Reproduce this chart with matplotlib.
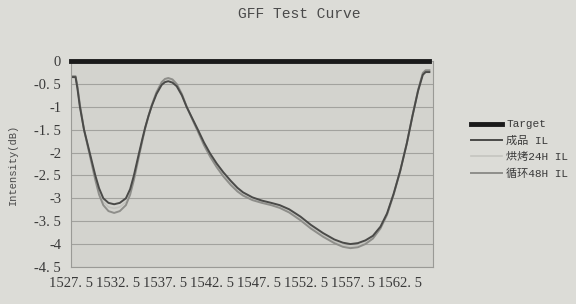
import matplotlib.pyplot as plt

# wavelength (nm) and insertion loss (dB)
wavelength = [1527.5, 1528.0, 1528.2, 1528.46, 1528.9, 1529.5, 1530.1, 1530.5, 1530.95, 1531.5,
              1532.1, 1532.7, 1533.35, 1533.8, 1534.2, 1534.7, 1535.1, 1535.4, 1535.75, 1536.1,
              1536.6, 1537.15, 1537.5, 1537.85, 1538.3, 1538.75, 1539.3, 1539.8, 1540.4, 1541.0,
              1541.65, 1542.3, 1543.0, 1543.7, 1544.5, 1545.2, 1545.8, 1546.8, 1547.8, 1548.8,
              1549.7, 1550.7, 1551.9, 1553.0, 1554.3, 1555.5, 1556.4, 1557.2, 1558.0, 1558.8,
              1559.6, 1560.4, 1561.1, 1561.8, 1562.5, 1563.2, 1563.8, 1564.4, 1564.9, 1565.2,
              1565.6]

il_product = [-0.35, -0.35, -0.60, -1.00, -1.50, -2.00, -2.50, -2.78, -3.00, -3.10,
              -3.13, -3.10, -3.00, -2.80, -2.50, -2.05, -1.70, -1.45, -1.20, -0.98,
              -0.72, -0.52, -0.46, -0.44, -0.47, -0.55, -0.75, -1.00, -1.25, -1.50,
              -1.78, -2.02, -2.24, -2.43, -2.62, -2.77, -2.87, -2.98, -3.05, -3.10,
              -3.15, -3.24, -3.40, -3.58, -3.76, -3.90, -3.97, -4.00, -3.98, -3.92,
              -3.82, -3.62, -3.33, -2.90, -2.40, -1.80, -1.20, -0.65, -0.30, -0.24,
              -0.24]

il_bake24 = [-0.34, -0.34, -0.58, -0.98, -1.50, -2.02, -2.55, -2.85, -3.08, -3.19,
             -3.22, -3.19, -3.08, -2.86, -2.55, -2.08, -1.72, -1.46, -1.20, -0.97,
             -0.70, -0.49, -0.42, -0.40, -0.43, -0.52, -0.73, -0.99, -1.26, -1.52,
             -1.81, -2.05, -2.28, -2.47, -2.66, -2.81, -2.90, -3.01, -3.07, -3.12,
             -3.18, -3.27, -3.44, -3.62, -3.80, -3.94, -4.02, -4.05, -4.03, -3.96,
             -3.85, -3.64, -3.35, -2.91, -2.40, -1.80, -1.20, -0.64, -0.28, -0.22,
             -0.22]

il_cycle48 = [-0.33, -0.33, -0.55, -0.95, -1.50, -2.05, -2.60, -2.92, -3.15, -3.28,
              -3.32, -3.28, -3.15, -2.92, -2.60, -2.12, -1.74, -1.47, -1.20, -0.96,
              -0.68, -0.46, -0.39, -0.37, -0.40, -0.50, -0.72, -0.99, -1.27, -1.54,
              -1.84, -2.09, -2.32, -2.52, -2.71, -2.85, -2.94, -3.04, -3.10, -3.15,
              -3.21, -3.31, -3.48, -3.66, -3.84, -3.98, -4.06, -4.09, -4.07, -4.00,
              -3.88, -3.66, -3.36, -2.92, -2.40, -1.80, -1.20, -0.63, -0.26, -0.20,
              -0.20]

target = [0.0 for w in wavelength]

x_ticks = [1527.5, 1532.5, 1537.5, 1542.5, 1547.5, 1552.5, 1557.5, 1562.5]
x_labels = ["1527. 5", "1532. 5", "1537. 5", "1542. 5", "1547. 5", "1552. 5", "1557. 5", "1562. 5"]
y_ticks = [0, -0.5, -1, -1.5, -2, -2.5, -3, -3.5, -4, -4.5]
y_labels = ["0", "-0. 5", "-1", "-1. 5", "-2", "-2. 5", "-3", "-3. 5", "-4", "-4. 5"]

serif = ["Liberation Serif", "Noto Sans CJK SC"]
mono = ["Liberation Mono", "Noto Sans CJK SC"]

fig = plt.figure(figsize=(5.76, 3.04), dpi=100, facecolor="#dcdcd7")
ax = fig.add_axes([0.123, 0.122, 0.629, 0.677], facecolor="#d3d3ce")

ax.plot(wavelength, il_bake24, color="#c4c4bf", linewidth=1.2, label="烘烤24H IL")
ax.plot(wavelength, il_cycle48, color="#8e8e8a", linewidth=1.4, label="循环48H IL",
        solid_joinstyle="round")
ax.plot(wavelength, il_product, color="#4a4a48", linewidth=1.4, label="成品 IL",
        solid_joinstyle="round")
ax.plot(wavelength, target, color="#1a1a1a", linewidth=3.5, label="Target", clip_on=False, zorder=5)

ax.set_xlim(1527.5, 1566.0)
ax.set_ylim(-4.5, 0)
ax.set_xticks(x_ticks)
ax.set_xticklabels(x_labels, family=serif, fontsize=10.5, color="#3a3a3a")
ax.set_yticks(y_ticks)
ax.set_yticklabels(y_labels, family=serif, fontsize=10.5, color="#3a3a3a")
ax.tick_params(length=0, pad=7)
ax.grid(axis="y", color="#a2a29e", linewidth=0.8)
ax.set_axisbelow(True)
for side in ["left", "bottom", "right"]:
    ax.spines[side].set_color("#9a9a96")
    ax.spines[side].set_linewidth(0.8)
ax.spines["top"].set_visible(False)

ax.set_ylabel("Intensity(dB)", family=mono, fontsize=7.5, color="#4a4a4a", labelpad=12)
fig.text(0.52, 0.955, "GFF Test Curve", family=mono, fontsize=10.5, color="#4a4a4a",
         ha="center", va="center")

handles, labels = ax.get_legend_handles_labels()
order = [3, 2, 0, 1]
fig.legend([handles[i] for i in order], [labels[i] for i in order],
           loc="upper left", bbox_to_anchor=(0.8, 0.64), frameon=False,
           prop={"family": mono, "size": 8}, labelcolor="#3a3a3a",
           handlelength=2.8, handletextpad=0.4, labelspacing=0.55)

fig.savefig("out.png", dpi=100, facecolor=fig.get_facecolor())
